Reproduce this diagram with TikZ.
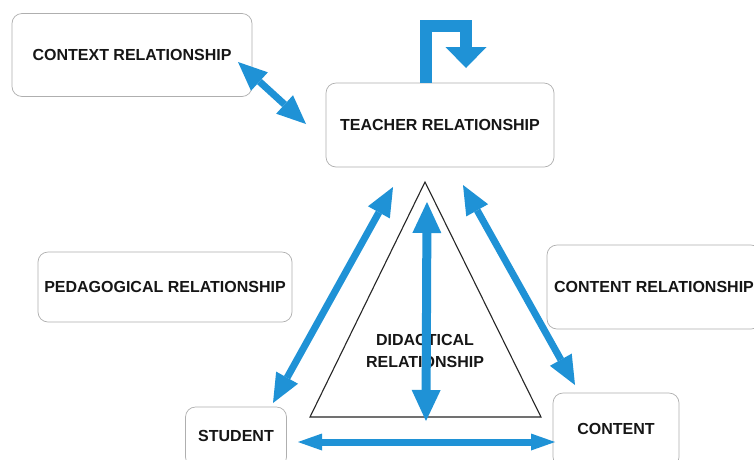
\documentclass[tikz,border=0pt]{standalone}
\usepackage{fontspec}
\setmainfont{Liberation Sans}
\usetikzlibrary{arrows.meta}
\definecolor{arrowblue}{RGB}{31,146,214}
\definecolor{boxedge}{RGB}{175,175,175}
\definecolor{txt}{RGB}{22,22,22}
\tikzset{
  box/.style={draw=boxedge, line width=0.7pt, rounded corners=10pt, fill=white,
    text=txt, font=\fontsize{16}{22}\selectfont\bfseries, inner sep=0pt, align=center},
  barrow/.style={draw=arrowblue, line width=7pt,
    arrows={Triangle[width=25pt,length=29pt,line width=0pt,fill=arrowblue]-Triangle[width=25pt,length=29pt,line width=0pt,fill=arrowblue]}},
  harrow/.style={draw=arrowblue, line width=7pt,
    arrows={Triangle[width=17pt,length=24pt,line width=0pt,fill=arrowblue]-Triangle[width=17pt,length=24pt,line width=0pt,fill=arrowblue]}},
  varrow/.style={draw=arrowblue, line width=9pt,
    arrows={Triangle[width=29pt,length=31pt,line width=0pt,fill=arrowblue]-Triangle[width=29pt,length=31pt,line width=0pt,fill=arrowblue]}},
  looparrow/.style={draw=arrowblue, line width=12pt, line join=miter,
    arrows={-Triangle[width=41pt,length=21pt,line width=0pt,fill=arrowblue]}},
  tri/.style={draw=black!85, line width=1.1pt, line join=miter},
  lbl/.style={text=txt, font=\fontsize{16}{22}\selectfont\bfseries, align=center, inner sep=0pt}
}
\begin{document}
\begin{tikzpicture}[x=1pt,y=-1pt]
\useasboundingbox (0,0) rectangle (754,459);
\fill[white] (0,0) rectangle (754,459);
\clip (0,0) rectangle (754,459);

% boxes
\node[box, minimum width=240pt, minimum height=83pt] (context) at (132,55) {CONTEXT RELATIONSHIP};
\node[box, minimum width=228pt, minimum height=84pt] (teacher) at (440,125) {TEACHER RELATIONSHIP};
\node[box, minimum width=254pt, minimum height=70pt] (peda) at (165,287) {PEDAGOGICAL RELATIONSHIP};
\node[box, minimum width=214pt, minimum height=84pt] (contentrel) at (654,287) {CONTENT RELATIONSHIP};
\node[box, minimum width=101pt, minimum height=60pt] (student) at (236,437) {\raisebox{2pt}{STUDENT}};
\node[box, minimum width=126pt, minimum height=74pt] (content) at (616,430) {\raisebox{2pt}{CONTENT}};

% triangle
\coordinate (apex) at (425,182);
\coordinate (bl) at (310,417);
\coordinate (br) at (541,417);
\draw[tri] (apex) -- (bl) -- (br) -- cycle;
\node[lbl] (didactical) at (425,351) {DIDACTICAL\\RELATIONSHIP};

% arrow end points
\coordinate (ctxA) at (238,62);
\coordinate (ctxB) at (306,124);
\coordinate (lA) at (393,187);
\coordinate (lB) at (273,403);
\coordinate (rA) at (463,185);
\coordinate (rB) at (575,385);
\coordinate (vA) at (427,202);
\coordinate (vB) at (426,421);
\coordinate (hA) at (298,442);
\coordinate (hB) at (555,442);
\coordinate (loopx) at (426,0);
\coordinate (loopturn) at (466,26);
\coordinate (loopend) at (466,68);

% arrows
\draw[barrow] (ctxA) -- (ctxB);
\draw[barrow] (lA) -- (lB);
\draw[barrow] (rA) -- (rB);
\draw[harrow] (hA) -- (hB);
\draw[varrow] (vA) -- (vB);
\draw[looparrow] (teacher.north -| loopx) |- (loopturn) -- (loopend);
\end{tikzpicture}
\end{document}
